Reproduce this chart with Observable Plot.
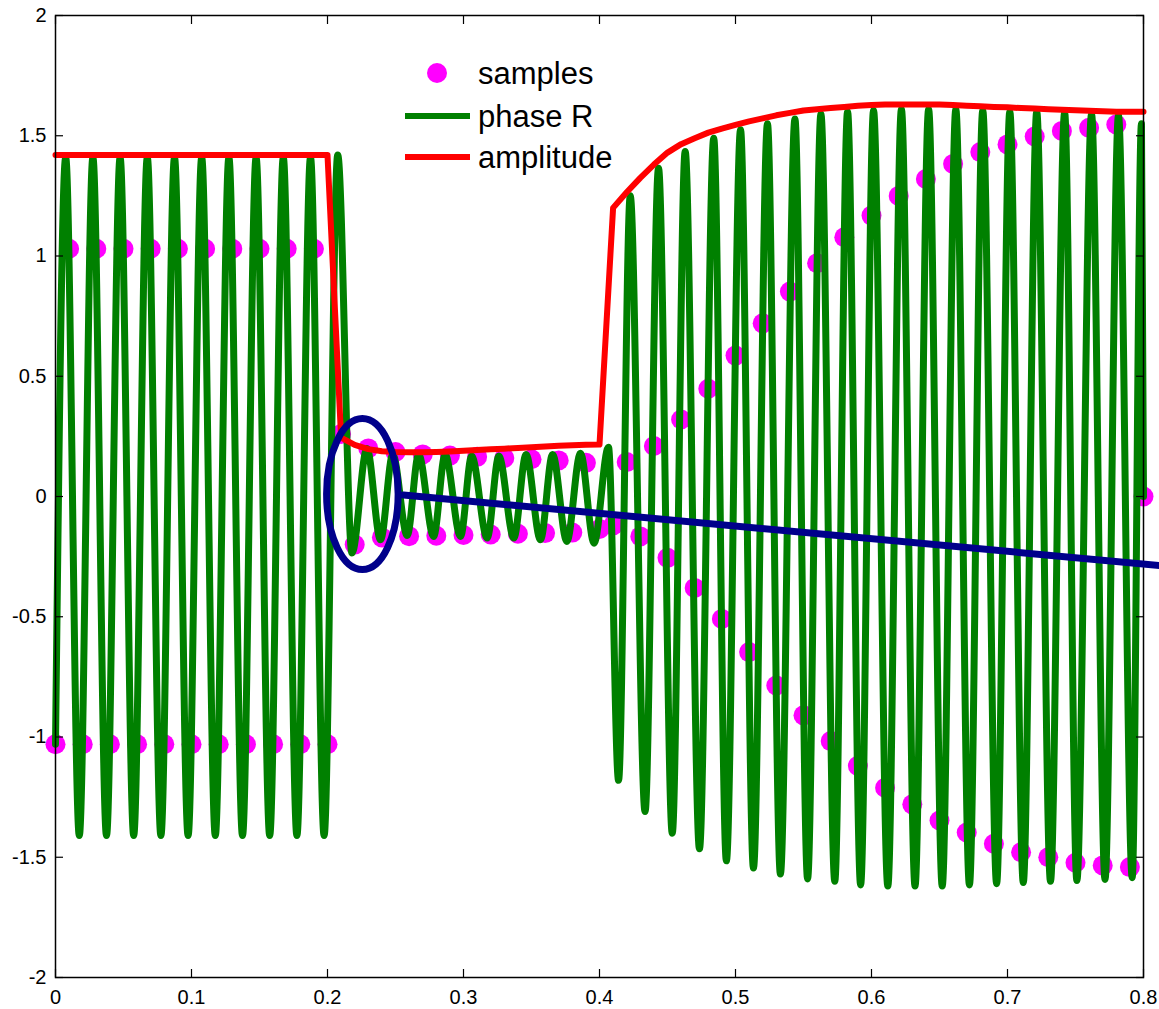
<!DOCTYPE html>
<html><head><meta charset="utf-8">
<script src="https://cdn.jsdelivr.net/npm/d3@7"></script>
<script src="https://cdn.jsdelivr.net/npm/@observablehq/plot@0.6"></script>
<style>
html,body{margin:0;padding:0;background:#fff;}
#chart{position:relative;width:1159px;height:1009px;overflow:hidden;}
</style></head><body><div id="chart"></div>
<script>
// ---- tick labels ----
const xTicks = [0, 0.1, 0.2, 0.3, 0.4, 0.5, 0.6, 0.7, 0.8];
const yTicks = [-2, -1.5, -1, -0.5, 0, 0.5, 1, 1.5, 2];

// ---- samples (every 0.01 s) ----
const sampleT = [0,0.01,0.02,0.03,0.04,0.05,0.06,0.07,0.08,0.09,0.1,0.11,0.12,0.13,0.14,0.15,0.16,0.17,0.18,0.19,0.2,
  0.21,0.22,0.23,0.24,0.25,0.26,0.27,0.28,0.29,0.3,0.31,0.32,0.33,0.34,0.35,0.36,0.37,0.38,0.39,0.4,
  0.41,0.42,0.43,0.44,0.45,0.46,0.47,0.48,0.49,0.5,0.51,0.52,0.53,0.54,0.55,0.56,0.57,0.58,0.59,0.6,
  0.61,0.62,0.63,0.64,0.65,0.66,0.67,0.68,0.69,0.7,0.71,0.72,0.73,0.74,0.75,0.76,0.77,0.78,0.79,0.8];
const sampleV = [-1.03,1.03,-1.03,1.03,-1.03,1.03,-1.03,1.03,-1.03,1.03,-1.03,1.03,-1.03,1.03,-1.03,1.03,-1.03,1.03,-1.03,1.03,-1.03,
  0.26,-0.20,0.20,-0.17,0.185,-0.165,0.175,-0.163,0.17,-0.16,0.165,-0.158,0.16,-0.155,0.155,-0.152,0.15,-0.15,0.14,-0.135,
  -0.12,0.143,-0.166,0.21,-0.255,0.32,-0.38,0.448,-0.509,0.586,-0.647,0.72,-0.786,0.852,-0.91,0.97,-1.017,1.078,-1.12,1.168,
  -1.211,1.25,-1.28,1.32,-1.347,1.383,-1.397,1.432,-1.444,1.464,-1.479,1.497,-1.50,1.52,-1.523,1.533,-1.534,1.547,-1.541,0.0];

// ---- phase R: turning points (peaks / troughs) ----
const phaseT = [0,0.0075,0.0175,0.0275,0.0375,0.0475,0.0575,0.0675,0.0775,0.0875,0.0975,0.1075,0.1175,0.1275,0.1375,0.1475,0.1575,0.1675,0.1775,0.1875,0.1975,0.2075,
  0.218,0.229,0.239,0.248,0.2586,0.267,0.278,0.2865,0.2978,0.306,0.3174,0.326,0.337,0.346,0.3566,0.3655,0.376,0.386,0.396,0.4066,
  0.414,0.4226,0.4335,0.4434,0.4535,0.463,0.4735,0.484,0.4933,0.5037,0.5132,0.5235,0.533,0.5437,0.553,0.5628,0.573,0.5824,0.592,0.6015,
  0.612,0.622,0.632,0.642,0.652,0.662,0.672,0.6818,0.692,0.7017,0.7116,0.7215,0.7316,0.742,0.751,0.7618,0.7717,0.7816,0.7917,0.7985,0.8];
const phaseV = [-1.03,1.41,-1.41,1.41,-1.41,1.41,-1.41,1.41,-1.41,1.41,-1.41,1.41,-1.41,1.41,-1.41,1.41,-1.41,1.41,-1.41,1.41,-1.41,1.42,
  -0.235,0.20,-0.18,0.175,-0.162,0.175,-0.166,0.175,-0.166,0.168,-0.173,0.168,-0.173,0.175,-0.18,0.175,-0.187,0.18,-0.194,0.205,
  -1.18,1.25,-1.31,1.365,-1.40,1.435,-1.465,1.49,-1.515,1.525,-1.545,1.55,-1.57,1.57,-1.59,1.59,-1.60,1.60,-1.615,1.605,
  -1.62,1.61,-1.62,1.61,-1.62,1.61,-1.615,1.605,-1.61,1.60,-1.605,1.60,-1.60,1.597,-1.597,1.59,-1.592,1.585,-1.585,1.55,0.0];

// ---- amplitude ----
const ampT = [0,0.2,0.21,0.22,0.23,0.24,0.25,0.26,0.27,0.28,0.29,0.3,0.31,0.32,0.33,0.34,0.35,0.36,0.37,0.38,0.39,0.4,
  0.41,0.42,0.43,0.44,0.45,0.46,0.47,0.48,0.49,0.5,0.51,0.52,0.53,0.54,0.55,0.56,0.57,0.58,0.59,0.6,
  0.61,0.62,0.63,0.64,0.65,0.66,0.67,0.68,0.69,0.7,0.71,0.72,0.73,0.74,0.75,0.76,0.77,0.78,0.79,0.8];
const ampV = [1.42,1.42,0.245,0.215,0.197,0.188,0.185,0.184,0.184,0.185,0.187,0.19,0.193,0.196,0.199,0.202,0.205,0.208,0.211,0.213,0.215,0.216,
  1.20,1.265,1.325,1.38,1.43,1.465,1.49,1.513,1.53,1.545,1.56,1.572,1.585,1.595,1.605,1.61,1.615,1.62,1.625,1.628,
  1.63,1.63,1.63,1.63,1.63,1.628,1.625,1.623,1.62,1.618,1.615,1.613,1.61,1.608,1.606,1.604,1.602,1.60,1.60,1.60];

// ---- annotation (blue ellipse + pointer line), in data units ----
const ellipseCenter = [0.226, 0.008];
const ellipseRadii = [0.0263, 0.314];
const pointerT = [0.2559, 0.8118];
const pointerV = [0.006, -0.287];

// ---- legend ----
const legendLabels = ["samples", "phase R", "amplitude"];
const legendColors = ["#ff00ff", "#008000", "#ff0000"];

const samples = sampleT.map((t, i) => ({t, v: sampleV[i]}));
const phase = phaseT.map((t, i) => ({t, v: phaseV[i]}));
const amp = ampT.map((t, i) => ({t, v: ampV[i]}));
const pointer = pointerT.map((t, i) => ({t, v: pointerV[i]}));

const W = 1159, H = 1009;
const M = {left: 55, right: 16, top: 15, bottom: 32};
const fmt = d => String(d);
const blank = () => "";

const plot = Plot.plot({
  width: W, height: H,
  marginLeft: M.left, marginRight: M.right, marginTop: M.top, marginBottom: M.bottom,
  style: {fontFamily: "'Liberation Sans', Arial, sans-serif", fontSize: "20px", color: "black", background: "white", overflow: "visible"},
  x: {domain: [0, 0.8]},
  y: {domain: [-2, 2]},
  marks: [
    Plot.dot(samples, {x: "t", y: "v", r: 10, fill: legendColors[0]}),
    Plot.line(phase, {x: "t", y: "v", stroke: legendColors[1], strokeWidth: 7, curve: "monotone-x", strokeLinejoin: "round", strokeLinecap: "round"}),
    Plot.line(amp, {x: "t", y: "v", stroke: legendColors[2], strokeWidth: 6, strokeLinejoin: "round"}),
    Plot.frame({stroke: "black", strokeWidth: 1.5}),
    // inward ticks on all four sides
    Plot.axisX(xTicks, {anchor: "bottom", tickSize: 8, dy: -8, tickFormat: blank, label: null, strokeWidth: 1.2}),
    Plot.axisX(xTicks, {anchor: "top", tickSize: 8, dy: 8, tickFormat: blank, label: null, strokeWidth: 1.2}),
    Plot.axisY(yTicks, {anchor: "left", tickSize: 8, dx: 8, tickFormat: blank, label: null, strokeWidth: 1.2}),
    Plot.axisY(yTicks, {anchor: "right", tickSize: 8, dx: -8, tickFormat: blank, label: null, strokeWidth: 1.2}),
    // tick labels
    Plot.axisX(xTicks, {anchor: "bottom", tickSize: 0, tickPadding: 12, tickFormat: fmt, label: null, fontSize: 20}),
    Plot.axisY(yTicks, {anchor: "left", tickSize: 0, tickPadding: 9, tickFormat: fmt, label: null, fontSize: 20}),
    // annotation pointer
    Plot.line(pointer, {x: "t", y: "v", stroke: "#00008b", strokeWidth: 7, clip: false})
  ]
});

const sx = plot.scale("x"), sy = plot.scale("y");
const X = v => sx.apply ? sx.apply(v) : M.left + (v - 0) / 0.8 * (W - M.left - M.right);
const Y = v => sy.apply ? sy.apply(v) : M.top + (2 - v) / 4 * (H - M.top - M.bottom);

const svg = d3.select(plot);
// ellipse annotation
svg.append("ellipse")
  .attr("cx", X(ellipseCenter[0])).attr("cy", Y(ellipseCenter[1]))
  .attr("rx", X(ellipseRadii[0]) - X(0)).attr("ry", Y(0) - Y(ellipseRadii[1]))
  .attr("fill", "none").attr("stroke", "#00008b").attr("stroke-width", 7);

// legend
const lg = svg.append("g").attr("font-family", "'Liberation Sans', Arial, sans-serif")
  .attr("font-size", 31).attr("fill", "black").attr("text-anchor", "start");
const rows = [73, 116, 157];
lg.append("circle").attr("cx", 437).attr("cy", rows[0]).attr("r", 10).attr("fill", legendColors[0]);
[1, 2].forEach(i => {
  lg.append("line").attr("x1", 405).attr("x2", 470).attr("y1", rows[i]).attr("y2", rows[i])
    .attr("stroke", legendColors[i]).attr("stroke-width", 6);
});
legendLabels.forEach((s, i) => {
  lg.append("text").attr("x", 478).attr("y", rows[i]).attr("dy", "0.36em").attr("text-anchor", "start").text(s);
});

document.getElementById("chart").appendChild(plot);
</script>
</body></html>
